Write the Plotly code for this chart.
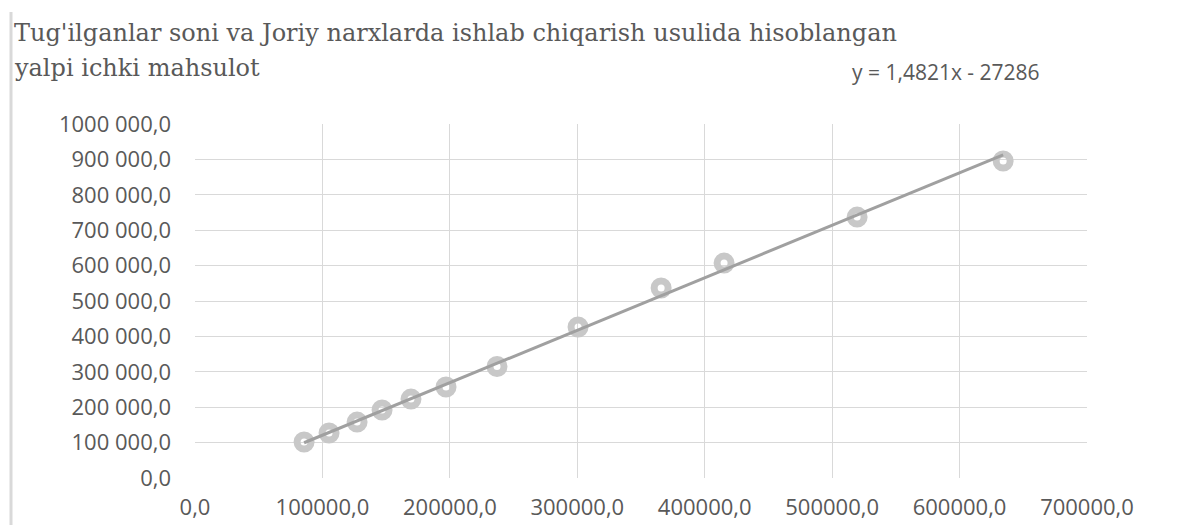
import plotly.graph_objects as go

# Data
x_vals = [85600, 105200, 127200, 146800, 169500, 197000, 237000, 300600, 365800, 415200, 519600, 634200]
y_vals = [101700, 127000, 158000, 192000, 223000, 257000, 315000, 426600, 536700, 607000, 737000, 895500]

trend_slope = 1.4821
trend_intercept = -27286

x_tick_vals = [0, 100000, 200000, 300000, 400000, 500000, 600000, 700000]
x_tick_text = ["0,0", "100000,0", "200000,0", "300000,0", "400000,0", "500000,0", "600000,0", "700000,0"]
y_tick_vals = [0, 100000, 200000, 300000, 400000, 500000, 600000, 700000, 800000, 900000, 1000000]
y_tick_text = ["0,0", "100 000,0", "200 000,0", "300 000,0", "400 000,0", "500 000,0",
               "600 000,0", "700 000,0", "800 000,0", "900 000,0", "1000 000,0"]

title_line1 = "Tug'ilganlar soni va Joriy narxlarda ishlab chiqarish usulida hisoblangan"
title_line2 = "yalpi ichki mahsulot"
equation = "y = 1,4821x - 27286"

# page body has an 8px margin; compensate so the picture lines up with the window
OFF = 8
W, H = 1182 - OFF, 525 - OFF
ML, MR, MT, MB = 195 - OFF, 1182 - 1087, 124 - OFF, 525 - 478


def py(p):
    p -= OFF
    return 1 - (p - MT) / (H - MT - MB)


def px(p):
    p -= OFF
    return (p - ML) / (W - ML - MR)


fig = go.Figure()
fig.add_trace(go.Scatter(
    x=x_vals, y=y_vals, mode="markers",
    marker=dict(symbol="circle-open", size=14, color="#c8c8c8", line=dict(width=7, color="#c8c8c8")),
    showlegend=False, hoverinfo="x+y"))

tx = [min(x_vals), max(x_vals)]
ty = [trend_slope * v + trend_intercept for v in tx]
fig.add_trace(go.Scatter(x=tx, y=ty, mode="lines",
                         line=dict(color="#a0a0a0", width=3), showlegend=False))

tick_font = dict(family="Open Sans", size=22, color="#595959")
title_font = dict(family="DejaVu Serif", size=24, color="#595959")

fig.add_annotation(text=title_line1, xref="paper", yref="paper", x=px(12), y=py(33),
                   xanchor="left", yanchor="middle", showarrow=False, font=title_font)
fig.add_annotation(text=title_line2, xref="paper", yref="paper", x=px(12), y=py(68),
                   xanchor="left", yanchor="middle", showarrow=False, font=title_font)
fig.add_annotation(text=equation, xref="paper", yref="paper", x=px(946), y=py(72),
                   xanchor="center", yanchor="middle", showarrow=False,
                   font=dict(family="Open Sans", size=21, color="#595959"))

fig.add_shape(type="line", xref="paper", yref="paper", x0=px(11), x1=px(11), y0=py(12), y1=py(525),
              line=dict(color="#d9d9d9", width=3))

fig.update_xaxes(range=[0, 700000], tickvals=x_tick_vals, ticktext=x_tick_text,
                 showgrid=True, gridcolor="#d9d9d9", gridwidth=1, zeroline=False,
                 showline=False, tickfont=tick_font, ticks="", ticklabelstandoff=14)
fig.update_yaxes(range=[0, 1000000], tickvals=y_tick_vals, ticktext=y_tick_text,
                 showgrid=True, gridcolor="#d9d9d9", gridwidth=1, zeroline=False,
                 showline=False, tickfont=tick_font, ticks="", ticklabelstandoff=23)

fig.update_layout(width=W, height=H, margin=dict(l=ML, r=MR, t=MT, b=MB, autoexpand=False),
                  paper_bgcolor="white", plot_bgcolor="white")

fig.write_html("out.html")
